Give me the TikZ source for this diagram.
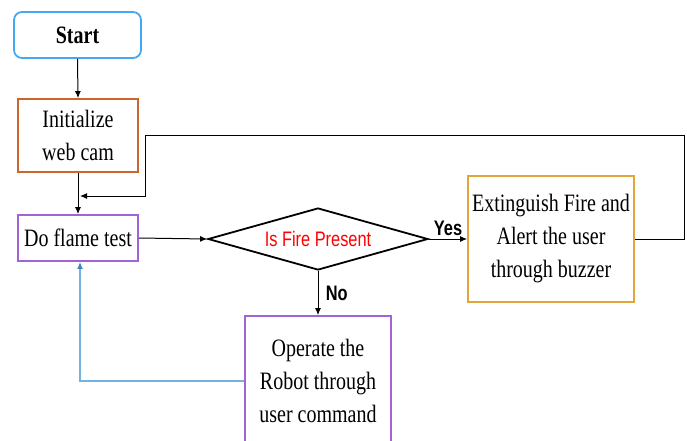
\documentclass[tikz,border=0pt]{standalone}
\usepackage{fontspec}
\setmainfont{Liberation Serif}
\newfontfamily\boxfont[FakeStretch=0.8]{Liberation Serif}
\newfontfamily\labelfont[FakeStretch=0.78]{Liberation Sans}
\usetikzlibrary{arrows.meta,shapes.geometric}

\definecolor{startblue}{HTML}{45A8F0}
\definecolor{initorange}{HTML}{C8672E}
\definecolor{boxpurple}{HTML}{A064D8}
\definecolor{extorange}{HTML}{E5A33B}
\definecolor{backblue}{HTML}{74B2E2}
\definecolor{tipblue}{HTML}{3C86C8}

\tikzset{
  procbox/.style={draw, line width=1.8pt, align=center, inner sep=0pt,
    font=\boxfont\fontsize{25}{33}\selectfont},
  arr/.style={line width=1pt, -{Latex[length=7pt,width=6pt]}},
  branch/.style={font=\labelfont\bfseries\fontsize{21}{24}\selectfont}
}

\begin{document}
\begin{tikzpicture}[x=1pt, y=-1pt]
  \path[use as bounding box] (0,0) rectangle (687,440);
  \clip (0,0) rectangle (687,440);

  % process boxes
  \node[procbox, draw=startblue, rounded corners=8pt,
        minimum width=127pt, minimum height=46pt] (start) at (77.5,35)
        {\bfseries Start};
  \node[procbox, draw=initorange, minimum width=120pt, minimum height=73pt]
        (init) at (78,135.5) {Initialize\\web cam};
  \node[procbox, draw=boxpurple, minimum width=120pt, minimum height=46pt]
        (flame) at (78,238) {Do flame test};
  \node[draw, diamond, line width=1.8pt, inner sep=0pt, aspect=3.55,
        minimum width=220pt, minimum height=62pt,
        text=red, font=\labelfont\fontsize{21}{24}\selectfont]
        (dec) at (318,239) {Is Fire Present};
  \node[procbox, draw=extorange, minimum width=166pt, minimum height=126pt]
        (ext) at (551,239) {Extinguish Fire and\\Alert the user\\through buzzer};
  \node[procbox, draw=boxpurple, minimum width=146pt, minimum height=130pt]
        (op) at (318,381) {Operate the\\Robot through\\user command};

  % loop-back route coordinates
  \coordinate (loopR) at (684,135);
  \coordinate (loopL) at (145,135);
  \coordinate (merge) at (80,196);

  % connectors
  \draw[arr] (start.south) -- (init.north);
  \draw[arr] (init.south) -- (flame.north);
  \draw[arr] (flame.east) -- (dec.west);
  \draw[arr] (dec.east) -- node[branch, above=-1pt] {Yes} (ext.west);
  \draw[arr] (dec.south) -- node[branch, right=4pt] {No} (op.north);
  \draw[arr] (ext.east) -| (loopR) -- (loopL) |- (merge);
  \draw[line width=1.4pt, backblue, -{Latex[length=7pt,width=6pt,color=tipblue]}]
        (op.west) -| ([xshift=2pt]flame.south);
\end{tikzpicture}
\end{document}
